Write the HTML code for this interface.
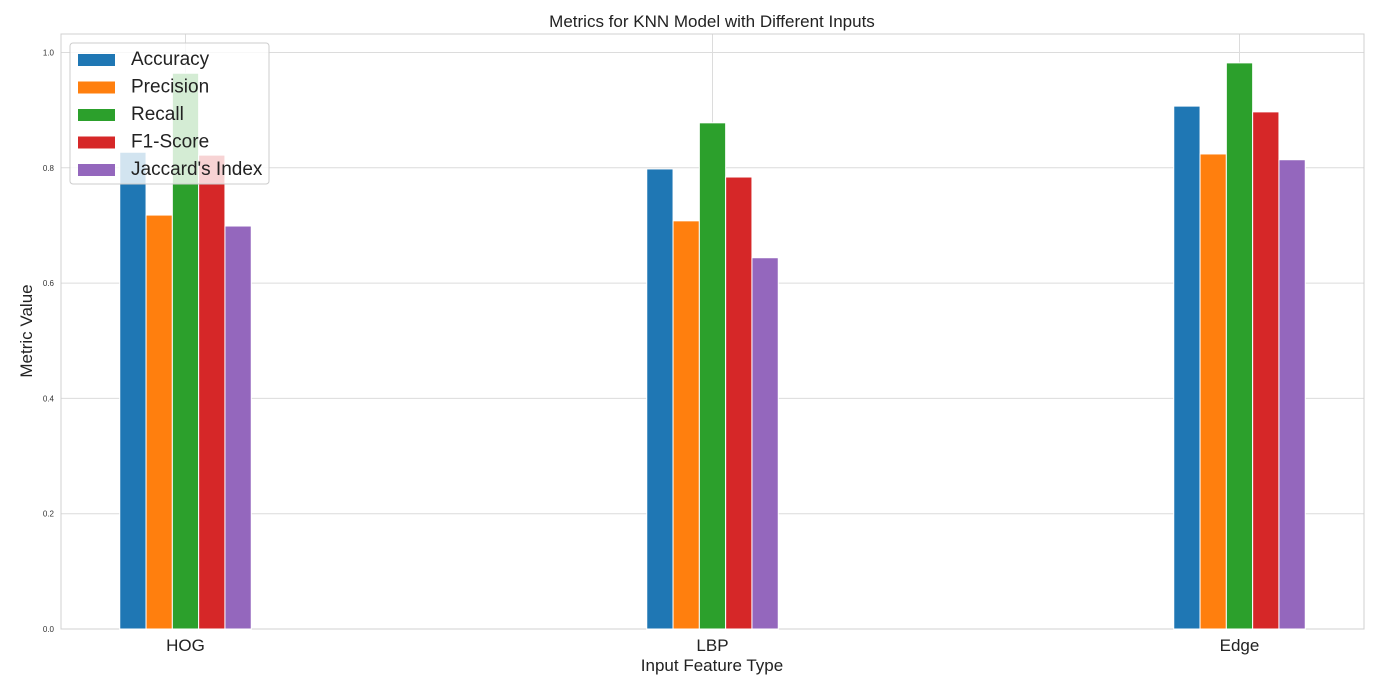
<!DOCTYPE html>
<html><head><meta charset="utf-8"><style>
body{margin:0;background:#fff;width:1386px;height:681px;overflow:hidden;font-family:"Liberation Sans",sans-serif}
</style></head><body>
<svg id="c" width="1386" height="681" xmlns="http://www.w3.org/2000/svg" font-family="Liberation Sans, sans-serif"></svg>
<script>
const categories=["HOG","LBP","Edge"];
const seriesNames=["Accuracy","Precision","Recall","F1-Score","Jaccard's Index"];
const colors=["#1f77b4","#ff7f0e","#2ca02c","#d62728","#9467bd"];
const accuracy=[0.827,0.798,0.907];
const precision=[0.718,0.708,0.824];
const recall=[0.964,0.878,0.982];
const f1=[0.822,0.784,0.897];
const jaccard=[0.699,0.644,0.814];
const yTicks=[0.0,0.2,0.4,0.6,0.8,1.0];
const series=[accuracy,precision,recall,f1,jaccard];
const svg=document.getElementById('c');const NS="http://www.w3.org/2000/svg";
const L=61,R=1364,T=34,B=629;
const y=v=>B-v*576.5;
const xc=i=>185.5+i*527;
const bw=26.3;
function mk(t,a,p){const e=document.createElementNS(NS,t);for(const k in a)e.setAttribute(k,a[k]);(p||svg).appendChild(e);return e;}
yTicks.forEach(v=>{const l=mk('line',{x1:L,x2:R,y1:y(v),y2:y(v),stroke:'#dcdcdc','stroke-width':1});


const t=mk('text',{x:L-7,y:y(v)+3,'font-size':8,'text-anchor':'end',fill:'#333'});t.textContent=v.toFixed(1);

});
categories.forEach((c,i)=>{const l=mk('line',{x1:xc(i),x2:xc(i),y1:T,y2:B,stroke:'#dcdcdc'});


const t=mk('text',{x:xc(i),y:651,'font-size':17,'text-anchor':'middle',fill:'#222'});t.textContent=c;

});
const fr=mk('rect',{x:L,y:T,width:R-L,height:B-T,fill:'none',stroke:'#d0d0d0'});


series.forEach((s,j)=>s.forEach((v,i)=>{const x=xc(i)+(j-2.5)*bw;
const r=mk('rect',{x:x,y:y(v),width:bw,height:B-y(v),fill:colors[j],stroke:'#fff','stroke-width':1});

}));
const lg=mk('g',{});


mk('rect',{x:70,y:43,width:199,height:141,rx:3,fill:'#fff','fill-opacity':0.8,stroke:'#ccc'},lg);
seriesNames.forEach((n,j)=>{const yy=59+j*27.5;
mk('rect',{x:78,y:yy-5,width:37,height:12,fill:colors[j]},lg);
const t=mk('text',{x:131,y:yy+6,'font-size':19,fill:'#222'},lg);t.textContent=n;

});
const ti=mk('text',{x:712,y:27,'font-size':17,'text-anchor':'middle',fill:'#222'});ti.textContent='Metrics for KNN Model with Different Inputs';


const xt=mk('text',{x:712,y:671,'font-size':17,'text-anchor':'middle',fill:'#222'});xt.textContent='Input Feature Type';


const yt=mk('text',{x:32,y:331,'font-size':17,'text-anchor':'middle',fill:'#222',transform:'rotate(-90 32 331)'});yt.textContent='Metric Value';


</script>
</body></html>
